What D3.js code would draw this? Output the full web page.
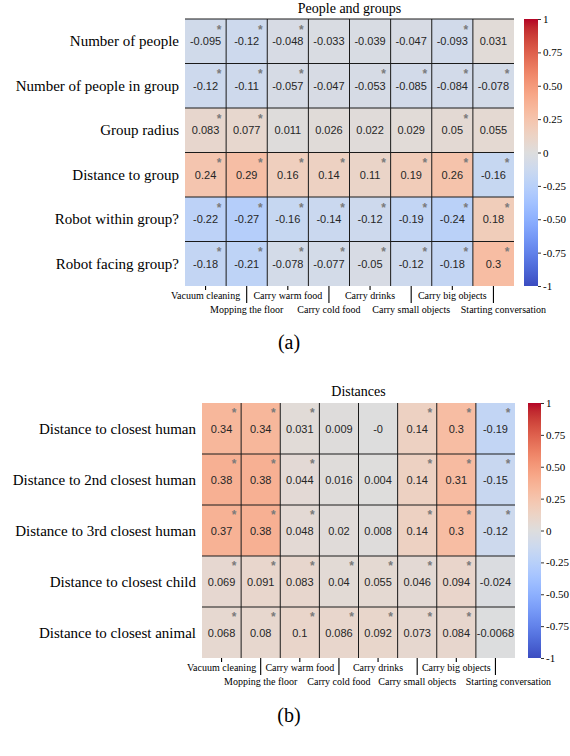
<!DOCTYPE html>
<html>
<head>
<meta charset="utf-8">
<script src="https://cdn.jsdelivr.net/npm/d3@7"></script>
<style>
  body { margin: 0; background: #fff; }
  svg { display: block; }
</style>
</head>
<body>
<script>
// columns shared by both heatmaps
var tasks = ["Vacuum cleaning", "Mopping the floor", "Carry warm food", "Carry cold food",
             "Carry drinks", "Carry small objects", "Carry big objects", "Starting conversation"];

// (a) people and groups
var groupRows = ["Number of people", "Number of people in group", "Group radius",
                 "Distance to group", "Robot within group?", "Robot facing group?"];
var groupValues = [
  [-0.095, -0.12, -0.048, -0.033, -0.039, -0.047, -0.093, 0.031],
  [-0.12, -0.11, -0.057, -0.047, -0.053, -0.085, -0.084, -0.078],
  [0.083, 0.077, 0.011, 0.026, 0.022, 0.029, 0.05, 0.055],
  [0.24, 0.29, 0.16, 0.14, 0.11, 0.19, 0.26, -0.16],
  [-0.22, -0.27, -0.16, -0.14, -0.12, -0.19, -0.24, 0.18],
  [-0.18, -0.21, -0.078, -0.077, -0.05, -0.12, -0.18, 0.3]
];
var groupStars = [
  [1, 1, 1, 0, 0, 0, 1, 0],
  [1, 1, 1, 0, 1, 1, 1, 1],
  [1, 1, 0, 0, 0, 0, 1, 0],
  [1, 1, 1, 1, 1, 1, 1, 1],
  [1, 1, 1, 1, 1, 1, 1, 1],
  [1, 1, 1, 1, 1, 1, 1, 1]
];

// (b) distances
var distRows = ["Distance to closest human", "Distance to 2nd closest human",
                "Distance to 3rd closest human", "Distance to closest child",
                "Distance to closest animal"];
var distValues = [
  [0.34, 0.34, 0.031, 0.009, -0, 0.14, 0.3, -0.19],
  [0.38, 0.38, 0.044, 0.016, 0.004, 0.14, 0.31, -0.15],
  [0.37, 0.38, 0.048, 0.02, 0.008, 0.14, 0.3, -0.12],
  [0.069, 0.091, 0.083, 0.04, 0.055, 0.046, 0.094, -0.024],
  [0.068, 0.08, 0.1, 0.086, 0.092, 0.073, 0.084, -0.0068]
];
var distStars = [
  [1, 1, 1, 0, 0, 1, 1, 1],
  [1, 1, 1, 0, 0, 1, 1, 1],
  [1, 1, 1, 0, 0, 1, 1, 1],
  [1, 1, 1, 1, 1, 1, 1, 0],
  [1, 1, 1, 1, 1, 1, 1, 0]
];

// colorbar ticks
var cbarTicks = [1, 0.75, 0.5, 0.25, 0, -0.25, -0.5, -0.75, -1];
var cbarLabels = ["1", "0.75", "0.50", "0.25", "0", "-0.25", "-0.50", "-0.75", "-1"];

// matplotlib coolwarm (Moreland), 33 steps from -1 to 1
var coolwarm = [
  [59,76,192],[68,90,204],[77,104,215],[87,117,225],[98,130,234],[108,142,241],
  [119,154,247],[130,165,251],[141,176,254],[152,185,255],[163,194,255],[174,201,253],
  [184,208,249],[194,213,244],[204,217,238],[213,219,230],[221,221,221],[229,216,209],
  [236,211,197],[241,204,185],[245,196,173],[247,187,160],[247,177,148],[247,166,135],
  [244,154,123],[241,141,111],[236,127,99],[229,112,88],[222,96,77],[213,80,66],
  [203,62,56],[192,40,47],[180,4,38]
];
var coolColors = coolwarm.map(function(c){ return d3.rgb(c[0], c[1], c[2]).toString() });
var color = d3.scaleLinear()
  .domain(coolwarm.map(function(c, i){ return -1 + i / 16 }))
  .range(coolColors)
  .clamp(true);

var SERIF = "'Liberation Serif', 'Times New Roman', serif";
var SANS = "'Liberation Sans', Arial, sans-serif";

var svg = d3.select("body").append("svg")
  .attr("width", 570).attr("height", 756);

var fmt = function(v){
  if (Object.is(v, -0)) return "-0";
  return String(v);
};

drawPanel = function(p){
  var g = svg.append("g");
  var x = d3.scaleBand().domain(tasks).range([p.left, p.right]);
  var y = d3.scaleBand().domain(p.rows).range([p.top, p.bottom]);

  var cells = [];
  p.rows.forEach(function(r, i){
    tasks.forEach(function(t, j){
      cells.push({row: r, task: t, v: p.values[i][j], star: p.stars[i][j]});
    });
  });

  g.selectAll("rect.cell").data(cells).join("rect")
    .attr("class", "cell")
    .attr("x", function(d){ return x(d.task) })
    .attr("y", function(d){ return y(d.row) })
    .attr("width", x.bandwidth())
    .attr("height", y.bandwidth())
    .attr("fill", function(d){ return color(d.v) })
    .attr("shape-rendering", "crispEdges");

  // grid lines between cells
  var grid = g.append("g").attr("stroke", "#1a1a1a").attr("stroke-width", 1);
  tasks.slice(1).forEach(function(t){
    grid.append("line").attr("x1", x(t)).attr("x2", x(t))
      .attr("y1", p.top).attr("y2", p.bottom);
  });
  p.rows.slice(1).forEach(function(r){
    grid.append("line").attr("x1", p.left).attr("x2", p.right)
      .attr("y1", y(r)).attr("y2", y(r));
  });
  if (p.topLine) {
    grid.append("line").attr("x1", p.left).attr("x2", p.right)
      .attr("y1", p.top).attr("y2", p.top);
  }

  // values
  g.selectAll("text.val").data(cells).join("text")
    .attr("class", "val")
    .attr("x", function(d){ return x(d.task) + x.bandwidth() / 2 })
    .attr("y", function(d){ return y(d.row) + y.bandwidth() / 2 })
    .attr("text-anchor", "middle")
    .attr("dominant-baseline", "central")
    .attr("font-family", SANS)
    .attr("font-size", 11)
    .attr("fill", "#262626")
    .text(function(d){ return fmt(d.v) });

  // significance stars
  g.selectAll("text.star").data(cells.filter(function(d){ return d.star })).join("text")
    .attr("class", "star")
    .attr("x", function(d){ return x(d.task) + x.bandwidth() - 7 })
    .attr("y", function(d){ return y(d.row) + p.starDy + 7 })
    .attr("text-anchor", "middle")
    .attr("font-family", SANS)
    .attr("font-weight", "bold")
    .attr("font-size", 12)
    .attr("fill", "#7a7a7a")
    .text("*");

  // row labels
  g.selectAll("text.rowlab").data(p.rows).join("text")
    .attr("class", "rowlab")
    .attr("x", p.left - 6)
    .attr("y", function(d){ return y(d) + y.bandwidth() / 2 })
    .attr("text-anchor", "end")
    .attr("dominant-baseline", "central")
    .attr("font-family", SERIF)
    .attr("font-size", 15)
    .attr("fill", "#000")
    .text(function(d){ return d });

  // x labels on two staggered rows
  var evenAx = d3.axisBottom(x).tickValues(tasks.filter(function(d, i){ return i % 2 == 0 }))
    .tickSize(4).tickPadding(2);
  var oddAx = d3.axisBottom(x).tickValues(tasks.filter(function(d, i){ return i % 2 == 1 }))
    .tickSize(17).tickPadding(3);
  [evenAx, oddAx].forEach(function(ax){
    var a = g.append("g").attr("transform", "translate(0," + p.bottom + ")").call(ax);
    a.attr("font-family", null);
    a.select(".domain").remove();
    a.selectAll("line").attr("stroke", "#000").attr("stroke-width", 1.1);
    a.selectAll("text").attr("font-family", SERIF).attr("font-size", 10).attr("fill", "#000");
    // last label sits a bit to the right so it clears its neighbour
    a.selectAll(".tick").filter(function(d){ return d == tasks[tasks.length - 1] })
      .select("text").attr("dx", p.lastShift);
  });

  // title
  g.append("text")
    .attr("x", (p.left + p.right) / 2)
    .attr("y", p.titleY)
    .attr("text-anchor", "middle")
    .attr("dominant-baseline", "central")
    .attr("font-family", SERIF)
    .attr("font-size", 14)
    .text(p.title);

  // colorbar
  var gid = "grad-" + p.tag.replace(/\W/g, "");
  var grad = svg.append("defs").append("linearGradient")
    .attr("id", gid).attr("x1", 0).attr("y1", 1).attr("x2", 0).attr("y2", 0);
  coolColors.forEach(function(c, i){
    grad.append("stop").attr("offset", i / 32).attr("stop-color", c);
  });
  g.append("rect")
    .attr("x", p.cbarX).attr("y", p.top)
    .attr("width", p.cbarW).attr("height", p.bottom - p.top)
    .attr("fill", "url(#" + gid + ")");
  var cs = d3.scaleLinear().domain([-1, 1]).range([p.bottom, p.top]);
  var cax = d3.axisRight(cs).tickValues(cbarTicks)
    .tickFormat(function(d, i){ return cbarLabels[i] })
    .tickSize(3).tickPadding(2);
  var ca = g.append("g").attr("transform", "translate(" + (p.cbarX + p.cbarW) + ",0)").call(cax);
  ca.attr("font-family", null);
  ca.select(".domain").remove();
  ca.selectAll("line").attr("stroke", "#000").attr("stroke-width", 0.8);
  ca.selectAll("text").attr("font-family", SERIF).attr("font-size", 11).attr("fill", "#000");

  // caption
  g.append("text")
    .attr("x", 289).attr("y", p.tagY)
    .attr("text-anchor", "middle")
    .attr("dominant-baseline", "central")
    .attr("font-family", SERIF)
    .attr("font-size", 20)
    .text(p.tag);
};

drawPanel({
  rows: groupRows, values: groupValues, stars: groupStars,
  title: "People and groups", tag: "(a)",
  left: 185, right: 514, top: 19, bottom: 286,
  cbarX: 524, cbarW: 14, starDy: 7.5, topLine: true, lastShift: 10,
  titleY: 8, tagY: 342
});

drawPanel({
  rows: distRows, values: distValues, stars: distStars,
  title: "Distances", tag: "(b)",
  left: 202, right: 515, top: 403, bottom: 658,
  cbarX: 528, cbarW: 13, starDy: 6.5, topLine: false, lastShift: 13,
  titleY: 391, tagY: 715
});
</script>
</body>
</html>
